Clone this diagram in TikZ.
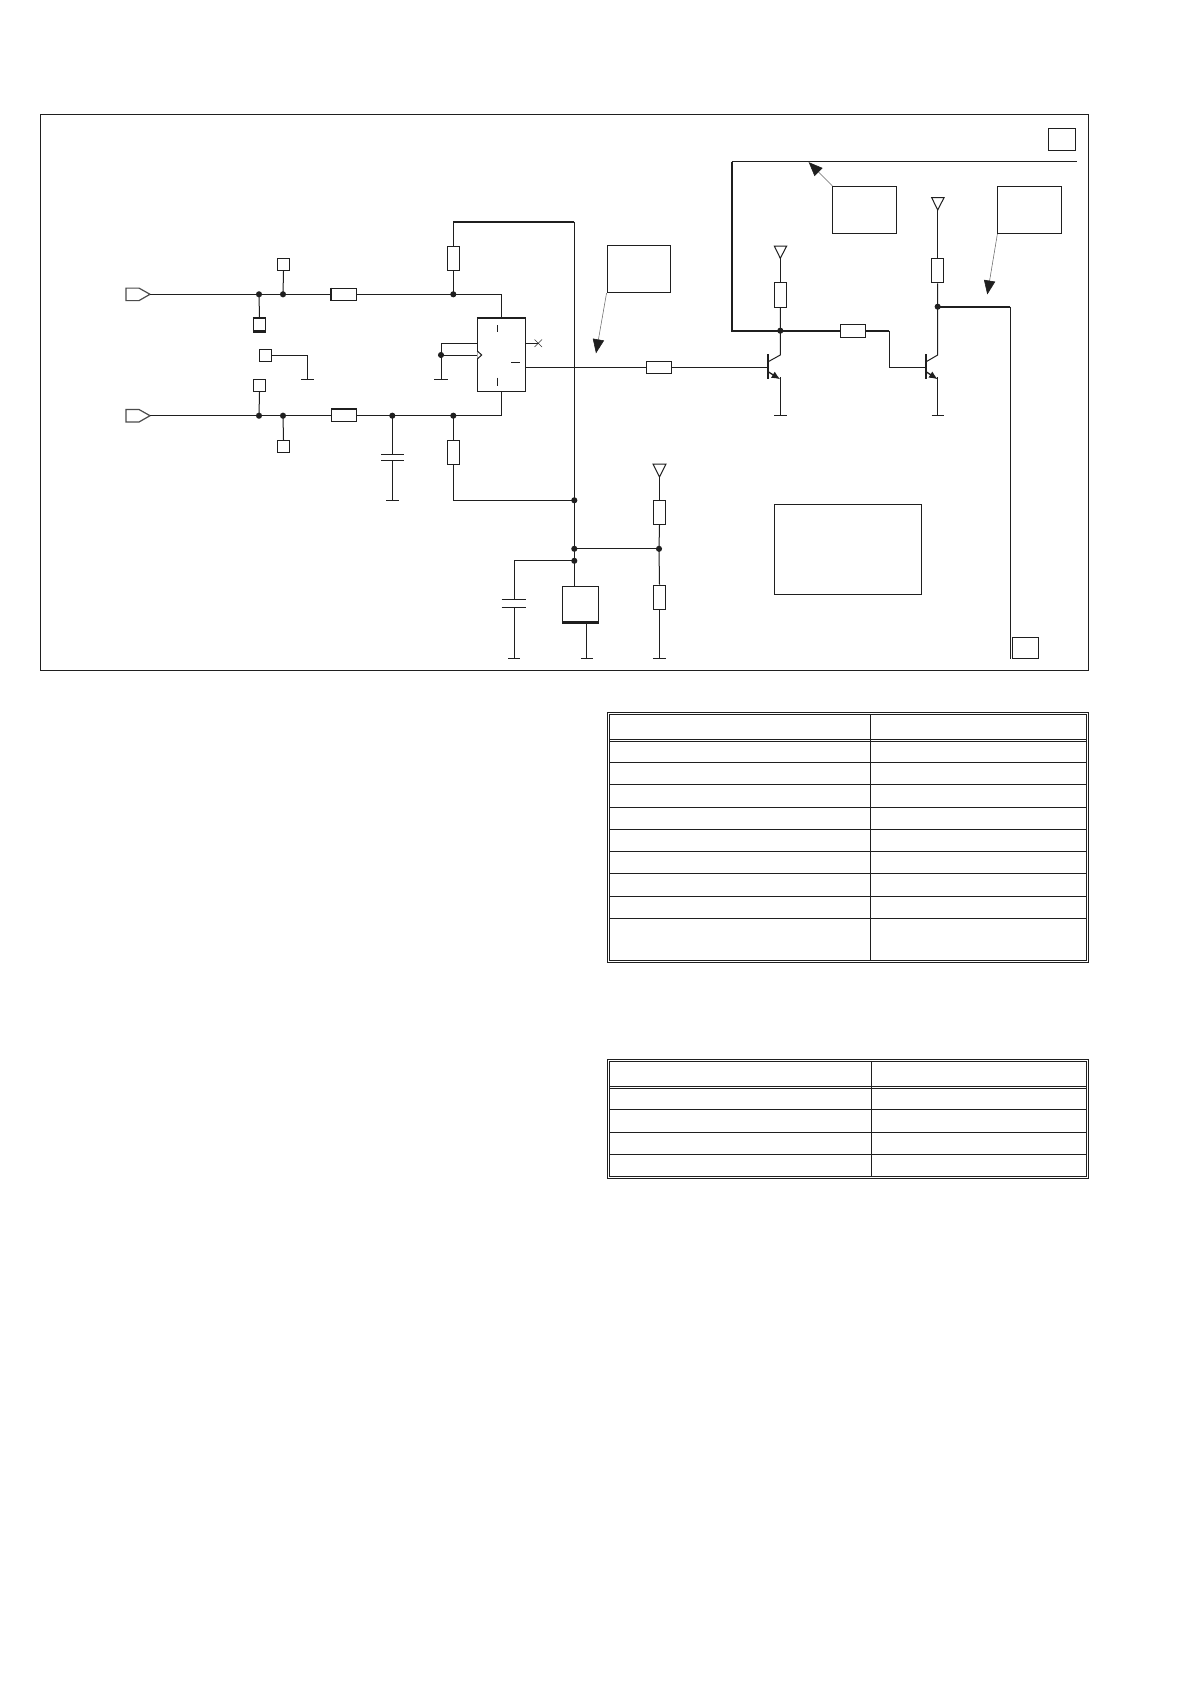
\documentclass[tikz,border=0pt]{standalone}
\usetikzlibrary{arrows.meta}
\tikzset{
  wire/.style={line width=0.75pt,draw=black!88,line join=miter},
  heavy/.style={line width=1.6pt,draw=black!88,line join=miter},
  leader/.style={line width=0.4pt,draw=black!60,-{Triangle[length=10.5pt,width=8.5pt,color=black!88,fill=black!88]}},
  dot/.style={circle,fill=black!88,inner sep=0pt,minimum size=4.6pt},
  boxn/.style={draw=black!88,line width=0.75pt,fill=white,rectangle,inner sep=0pt},
  hres/.style={boxn,minimum width=18.7pt,minimum height=9.3pt},
  vres/.style={boxn,minimum width=9.3pt,minimum height=18.3pt},
  pad/.style={boxn,minimum width=9.3pt,minimum height=9.3pt},
  note/.style={boxn,minimum width=47.5pt,minimum height=35.5pt},
  tline/.style={line width=0.75pt,draw=black!88},
}
\begin{document}
\begin{tikzpicture}[x=0.75pt,y=-0.75pt]
\useasboundingbox (0,0) rectangle (1190,1684);
\fill[white] (0,0) rectangle (1190,1684);
% frame
\draw[wire] (40.8,114.3) rectangle (1088.7,670.2);
% coordinates
\coordinate (i1) at (150,294.3);
\coordinate (i2) at (150,415.7);
\node[dot] (a1) at (259,294.3) {};
\node[dot] (a2) at (283,294.3) {};
\node[dot] (a3) at (453.3,294.3) {};
\node[dot] (b1) at (259,415.7) {};
\node[dot] (b2) at (283,415.7) {};
\node[dot] (b3) at (392.3,415.7) {};
\node[dot] (b4) at (453.3,415.7) {};
\node[dot] (c1) at (574.3,500.3) {};
\node[dot] (c2) at (574.3,548.8) {};
\node[dot] (c3) at (574.3,560.8) {};
\node[dot] (c4) at (659,548.8) {};
\node[dot] (d1) at (441,355) {};
\node[dot] (t1j) at (780.3,330.7) {};
\node[dot] (t2j) at (937.7,306.7) {};
% components
\node[hres] (r1) at (344.2,294.3) {};
\node[hres] (r2) at (344.2,415.7) {};
\node[vres] (r3) at (453.3,258.5) {};
\node[vres] (r4) at (453.3,452.5) {};
\node[hres] (r5) at (659.2,367.3) {};
\node[vres] (r6) at (780.3,295) {};
\node[hres] (r7) at (853.3,330.9) {};
\node[vres] (r8) at (937.7,270.7) {};
\node[vres] (r9) at (659.5,512.2) {};
\node[vres] (r10) at (659.5,597.3) {};
\node[pad] (p1) at (283.5,264.5) {};
\node[pad] (p2) at (259.5,324.8) {};
\node[pad] (p3) at (265.5,355.5) {};
\node[pad] (p4) at (259.5,385.5) {};
\node[pad] (p5) at (283.5,446.5) {};
\node[boxn,minimum width=36.3pt,minimum height=54.5pt] (ic) at (501.5,355) {};
\node[boxn,minimum width=26.6pt,minimum height=27pt] (reg) at (580.7,604) {};
\node[note] (n1) at (638.7,269) {};
\node[note] (n2) at (864.5,210) {};
\node[note] (n3) at (1029.5,210) {};
\node[boxn,minimum width=110.3pt,minimum height=68pt] (big) at (848,549.5) {};
\node[boxn,minimum width=20.5pt,minimum height=16.8pt] (tag1) at (1062,139.5) {};
\node[boxn,minimum width=20pt,minimum height=16pt] (tag2) at (1025.5,648) {};
% input tags
\draw[wire,line width=0.9pt,draw=black!70] (126,288.1) -- (139,288.1) -- (i1) -- (139,300.6) -- (126,300.6) -- cycle;
\draw[wire,line width=0.9pt,draw=black!70] (126,409.5) -- (139,409.5) -- (i2) -- (139,422) -- (126,422) -- cycle;
% rails
\draw[wire] (i1) -- (r1.west);
\draw[wire] (r1.east) -- (a3.center) -| (ic.north);
\draw[wire] (i2) -- (r2.west);
\draw[wire] (r2.east) -- (b4.center) -| (ic.south);
\draw[wire] (a1.center) -- (p2.north);
\draw[wire] (a2.center) -- (p1.south);
\draw[wire] (b1.center) -- (p4.south);
\draw[wire] (b2.center) -- (p5.north);
\draw[wire] (a3.center) -- (r3.south);
\draw[wire] (b4.center) -- (r4.north);
\draw[heavy,line width=1.2pt] (r1.north west) -- (r1.south west);
\draw[heavy] (r2.north west) -- (r2.north east);
\draw[heavy] (p2.north west) -- (p2.north east);
\draw[heavy] (p2.south west) -- (p2.south east);
\draw[heavy,line width=1.3pt] (ic.north west) -- (ic.north east);
% top bus
\coordinate (tb) at (574.3,221.7);
\draw[wire] (r3.north) -- (453.3,221.7);
\draw[heavy] (453.3,221.7) -- (tb);
\draw[wire] (tb) -- (c1.center) -- (c2.center) -- (c3.center) -- (reg.north -| c3);
\draw[wire] (r4.south) |- (c1.center);
\draw[wire] (c2.center) -- (c4.center);
% ground pad p3
\coordinate (g3) at (307.3,379.3);
\draw[wire] (p3.east) -| (g3);
\draw[wire] (301.3,379.3) -- (313.7,379.3);
% ic left
\coordinate (ic1) at (477.3,343.3);
\coordinate (ic2) at (477.3,355);
\coordinate (g4) at (441,379.3);
\draw[wire] (ic1) -- (441,343.3) -- (g4);
\draw[wire] (d1.center) -- (ic2);
\draw[wire] (434.3,379.3) -- (447.7,379.3);
\draw[wire,fill=white] (477.3,351) -- (481.7,355) -- (477.3,359);
% ic marks
\draw[wire] (497.3,325) -- (497.3,331.7);
\draw[wire] (497.3,377.7) -- (497.3,385.7);
\draw[wire] (511.3,362.3) -- (520,362.3);
\coordinate (nc) at (538.3,343.3);
\draw[wire] (525.7,343.3) -- (nc);
\draw[line width=0.4pt,black!80] (534.5,339.5) -- (542,347) (534.5,347) -- (542,339.5);
% output
\draw[wire] (525.7,367.3) -- (r5.west);
\draw[wire] (r5.east) -- (767.7,367.3);
% cap 1
\coordinate (g5) at (392.3,500.7);
\draw[wire] (b3.center) -- (392.3,454.3);
\draw[wire] (381,454.3) -- (404,454.3);
\draw[wire] (381,460.3) -- (404,460.3);
\draw[wire] (392.3,460.3) -- (g5);
\draw[wire] (386.3,500.7) -- (398.7,500.7);
% cap 2
\coordinate (g6) at (514,658.4);
\draw[wire] (c3.center) -- (514,560.8) -- (514,599.5);
\draw[wire] (501.5,599.5) -- (526,599.5);
\draw[wire] (501.5,607) -- (526,607);
\draw[wire] (514,607) -- (g6);
\draw[wire] (508,658.4) -- (520,658.4);
% regulator
\coordinate (g7) at (586.8,658.4);
\draw[wire] (586.8,622) -- (g7);
\draw[wire] (580.8,658.4) -- (592.8,658.4);
\draw[heavy] (reg.south west) -- (reg.south east);
% divider
\coordinate (g8) at (659.5,658.4);
\coordinate (v3) at (659.5,477);
\draw[wire,fill=white] (653,464) -- (666,464) -- (v3) -- cycle;
\draw[wire] (v3) -- (r9.north);
\draw[wire] (r9.south) -- (c4.center) -- (r10.north);
\draw[wire] (r10.south) -- (g8);
\draw[wire] (653.3,658.4) -- (665.7,658.4);
% transistor 1
\coordinate (v1) at (780.3,258.3);
\draw[wire,fill=white] (774.3,246) -- (786.7,246) -- (v1) -- cycle;
\draw[wire] (v1) -- (r6.north);
\draw[wire] (r6.south) -- (t1j.center) -- (780.3,355) -- (767.7,362);
\draw[line width=1.2pt,black!88] (767.7,354.3) -- (767.7,379.3);
\draw[wire,line width=1pt,-{Latex[length=6.5pt,width=5.5pt]}] (767.7,371.5) -- (780.3,379.3);
\coordinate (g1) at (780.3,415.3);
\draw[wire] (780.3,377) -- (g1);
\draw[wire] (774.3,415.3) -- (786.7,415.3);
% transistor 2
\coordinate (v2) at (937.7,210);
\draw[wire,fill=white] (931.7,197.7) -- (944,197.7) -- (v2) -- cycle;
\draw[wire] (v2) -- (r8.north);
\draw[wire] (r8.south) -- (t2j.center) -- (937.7,355) -- (925.7,362);
\draw[line width=1.2pt,black!88] (925.7,354.3) -- (925.7,379.3);
\draw[wire,line width=1pt,-{Latex[length=6.5pt,width=5.5pt]}] (925.7,371.5) -- (937.7,379.3);
\coordinate (g2) at (937.7,415.3);
\draw[wire] (937.7,377) -- (g2);
\draw[wire] (931.7,415.3) -- (944,415.3);
% heavy nets
\coordinate (hc) at (731.7,330.7);
\coordinate (ht) at (731.7,161.7);
\coordinate (he) at (1077,161.7);
\draw[wire] (ht) -- (he);
\draw[heavy] (ht) -- (hc) -- (t1j.center) -- (r7.west |- t1j);
\coordinate (hk) at (889.3,330.7);
\draw[heavy] (r7.east |- hk) -- (hk);
\draw[wire] (hk) -- (889.3,367.3) -- (925.7,367.3);
\coordinate (hr) at (1010.3,306.7);
\coordinate (hb) at (1010.3,659);
\draw[heavy] (t2j.center) -- (hr);
\draw[wire] (hr) -- (hb);
% leaders
\coordinate (l1) at (596,353.3);
\coordinate (l2) at (808.7,162.2);
\coordinate (l3) at (987.3,294.5);
\draw[leader] (n1.south west) -- (l1);
\draw[leader] (n2.north west) -- (l2);
\draw[leader] (n3.south west) -- (l3);
% table 1
\draw[tline] (607.3,712.3) rectangle (1088.7,962.3);
\draw[tline] (609.7,714.3) rectangle (1086.7,960.3);
\draw[tline] (870.3,714.3) -- (870.3,960.3);
\foreach \yy in {739.3,741.3,762.3,784.3,807.3,829.3,851.3,873.3,896.3,918.3}
  \draw[tline] (609.7,\yy) -- (1086.7,\yy);
% table 2
\draw[tline] (607.3,1059.3) rectangle (1088.7,1178.7);
\draw[tline] (609.7,1061.3) rectangle (1086.7,1176.7);
\draw[tline] (871.7,1061.3) -- (871.7,1176.7);
\foreach \yy in {1086.3,1088.3,1109.3,1132.3,1154.3}
  \draw[tline] (609.7,\yy) -- (1086.7,\yy);
\end{tikzpicture}
\end{document}
